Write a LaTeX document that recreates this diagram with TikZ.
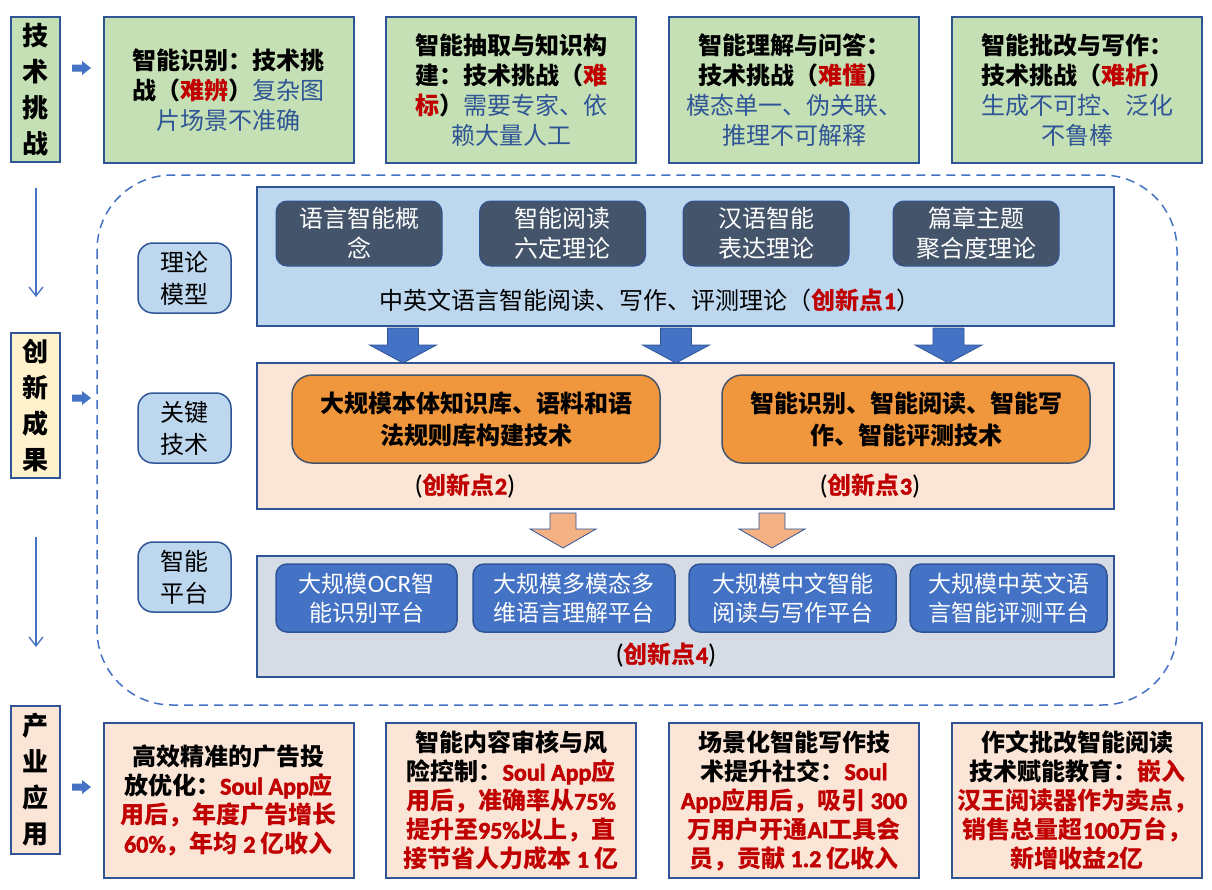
\documentclass[tikz,border=0pt]{standalone}
\usepackage{fontspec}
\setmainfont{Noto Sans CJK SC}
\newfontfamily\lat{Carlito}
\newfontfamily\latb{Carlito}[FakeBold=2.2]
\usetikzlibrary{arrows.meta}
\definecolor{bdr}{HTML}{2F5597}
\definecolor{grn}{HTML}{C5E0B4}
\definecolor{cred}{HTML}{C00000}
\definecolor{cblue}{HTML}{2F5597}
\definecolor{lblue}{HTML}{BDD7EE}
\definecolor{dark}{HTML}{44546A}
\definecolor{ablue}{HTML}{4472C4}
\definecolor{peach}{HTML}{FBE5D6}
\definecolor{orng}{HTML}{F0963C}
\definecolor{orarrow}{HTML}{F4B183}
\definecolor{gry}{HTML}{D6DCE5}
\definecolor{yel}{HTML}{FFF2CC}
\newcommand\rd[1]{{\bfseries\color{cred}#1}}
\newcommand\bl[1]{{\mdseries\color{cblue}#1}}
\newcommand\lb[1]{{\latb #1}}
\newcommand\fs[2]{\fontsize{#1}{#2}\selectfont}
\newcommand\blockdown[7]{%
  \filldraw[#7] (#1-#5,#2) -- (#1+#5,#2) -- (#1+#5,#3) -- (#1+#6,#3) -- (#1,#4) -- (#1-#6,#3) -- (#1-#5,#3) -- cycle;}
\newcommand\blockright[2]{%
  \fill[ablue] (#1,#2-3.5) -- (#1+10,#2-3.5) -- (#1+10,#2-7) -- (#1+19,#2) -- (#1+10,#2+7) -- (#1+10,#2+3.5) -- (#1,#2+3.5) -- cycle;}
\tikzset{
  sidelabel/.style={draw=bdr, line width=2pt, minimum width=49pt, align=center, inner sep=0pt, font=\fs{26}{36}\bfseries},
  topbox/.style={draw=bdr, line width=2pt, fill=grn, minimum width=250pt, minimum height=146pt, align=center, inner sep=0pt, font=\fs{24}{30}\bfseries},
  botbox/.style={draw=bdr, line width=2pt, fill=peach, minimum width=250pt, minimum height=155pt, align=center, inner sep=0pt, font=\fs{24}{29}\bfseries},
  panel/.style={draw=bdr, line width=2pt},
  tag/.style={draw=bdr, line width=1.5pt, fill=lblue, rounded corners=15pt, minimum width=93pt, minimum height=70pt, align=center, inner sep=0pt, font=\fs{24}{32}},
  theo/.style={draw=bdr, line width=1pt, fill=dark, rounded corners=11pt, minimum width=166pt, minimum height=65pt, align=center, inner sep=0pt, text=white, font=\fs{24}{30}},
  tech/.style={draw=dark, line width=1.5pt, fill=orng, rounded corners=20pt, minimum width=368pt, minimum height=88pt, align=center, inner sep=0pt, font=\fs{24}{32}\bfseries},
  plat/.style={draw=bdr, line width=1.5pt, fill=ablue, rounded corners=11pt, minimum height=68pt, align=center, inner sep=0pt, text=white, font=\fs{23}{29}},
  thin/.style={ablue, line width=1.3pt, -{Straight Barb[length=9pt,width=14pt,line width=1.3pt]}},
}
\begin{document}
\begin{tikzpicture}[x=1pt,y=-1pt]
\useasboundingbox (0,0) rectangle (1212,889);
\fill[white] (0,0) rectangle (1212,889);

% dashed frame
\draw[ablue, line width=1.5pt, dash pattern=on 9pt off 6pt, rounded corners=75pt] (97,175) rectangle (1177,705);

% side labels
\node[sidelabel, fill=grn, minimum height=145pt] (sl1) at (35.5,89.5) {技\\术\\挑\\战};
\node[sidelabel, fill=yel, minimum height=145pt] (sl2) at (35.5,405.5) {创\\新\\成\\果};
\node[sidelabel, fill=peach, minimum height=148pt] (sl3) at (35.5,780) {产\\业\\应\\用};
\blockright{72}{68}
\blockright{72}{398}
\blockright{72}{787}
\coordinate (d1a) at (36,188); \coordinate (d1b) at (36,297);
\coordinate (d2a) at (36,537); \coordinate (d2b) at (36,647);
\draw[thin] (d1a) -- (d1b);
\draw[thin] (d2a) -- (d2b);

% top row
\node[topbox] (t1) at (228.5,90) {智能识别：技术挑\\战（\rd{难辨}）\bl{复杂图}\\\bl{片场景不准确}};
\node[topbox] (t2) at (511,90) {智能抽取与知识构\\建：技术挑战（\rd{难}\\\rd{标}）\bl{需要专家、依}\\\bl{赖大量人工}};
\node[topbox] (t3) at (794,90) {智能理解与问答：\\技术挑战（\rd{难懂}）\\\bl{模态单一、伪关联、}\\\bl{推理不可解释}};
\node[topbox] (t4) at (1077,90) {智能批改与写作：\\技术挑战（\rd{难析}）\\\bl{生成不可控、泛化}\\\bl{不鲁棒}};

% tags
\node[tag] (g1) at (184.5,278) {理论\\模型};
\node[tag] (g2) at (184.5,428) {关键\\技术};
\node[tag] (g3) at (184.5,577) {智能\\平台};

% theory panel
\draw[panel, fill=lblue] (257,187) rectangle (1114,326);
\node[theo] (th1) at (359,233.5) {语言智能概\\念};
\node[theo] (th2) at (562.5,233.5) {智能阅读\\六定理论};
\node[theo] (th3) at (766,233.5) {汉语智能\\表达理论};
\node[theo] (th4) at (976,233.5) {篇章主题\\聚合度理论};
\node[font=\fs{24}{30}, inner sep=0pt] (thx) at (650,300) {中英文语言智能阅读、写作、评测理论（\rd{创新点\lb{1}}）};

% blue arrows
\blockdown{403}{328}{345}{363}{15.5}{33.5}{fill=ablue, draw=bdr, line width=0.8pt}
\blockdown{676}{328}{345}{363}{15.5}{33.5}{fill=ablue, draw=bdr, line width=0.8pt}
\blockdown{948.5}{328}{345}{363}{15.5}{33.5}{fill=ablue, draw=bdr, line width=0.8pt}

% tech panel
\draw[panel, fill=peach] (257,363) rectangle (1114,509);
\node[tech] (k1) at (476,419) {大规模本体知识库、语料和语\\法规则库构建技术};
\node[tech] (k2) at (906,419) {智能识别、智能阅读、智能写\\作、智能评测技术};
\node[font=\fs{24}{30}, inner sep=0pt] (c2) at (465,486) {{\lat\fs{27}{30}(}\rd{创新点\lb{2}}{\lat\fs{27}{30})}};
\node[font=\fs{24}{30}, inner sep=0pt] (c3) at (870,486) {{\lat\fs{27}{30}(}\rd{创新点\lb{3}}{\lat\fs{27}{30})}};

% orange arrows
\blockdown{563}{513}{529}{548}{13}{33}{fill=orarrow, draw=bdr, line width=0.8pt}
\blockdown{772}{513}{529}{548}{13}{33}{fill=orarrow, draw=bdr, line width=0.8pt}

% platform panel
\draw[panel, fill=gry] (257,556) rectangle (1114,677);
\node[plat, minimum width=181pt] (p1) at (366.5,598) {大规模{\lat\fs{25}{29}OCR}智\\能识别平台};
\node[plat, minimum width=202pt] (p2) at (574,598) {大规模多模态多\\维语言理解平台};
\node[plat, minimum width=207pt] (p3) at (792.5,598) {大规模中文智能\\阅读与写作平台};
\node[plat, minimum width=197pt] (p4) at (1008.5,598) {大规模中英文语\\言智能评测平台};
\node[font=\fs{24}{30}, inner sep=0pt] (c4) at (666,655) {{\lat\fs{27}{30}(}\rd{创新点\lb{4}}{\lat\fs{27}{30})}};

% bottom row
\node[botbox] (b1) at (228.5,800.5) {高效精准的广告投\\放优化：\rd{\lb{Soul App}应}\\\rd{用后，年度广告增长}\\\rd{\lb{60\%}，年均\lb{\ 2\ }亿收入}};
\node[botbox] (b2) at (511,800.5) {智能内容审核与风\\险控制：\rd{\lb{Soul App}应}\\\rd{用后，准确率从\lb{75\%}}\\\rd{提升至\lb{95\%}以上，直}\\\rd{接节省人力成本\lb{\ 1\ }亿}};
\node[botbox] (b3) at (794,800.5) {场景化智能写作技\\术提升社交：\rd{\lb{Soul}}\\\rd{\lb{App}应用后，吸引\lb{\ 300}}\\\rd{万用户开通\lb{AI}工具会}\\\rd{员，贡献\lb{\ 1.2\ }亿收入}};
\node[botbox] (b4) at (1077,800.5) {作文批改智能阅读\\技术赋能教育：\rd{嵌入}\\\rd{汉王阅读器作为卖点，}\\\rd{销售总量超\lb{100}万台，}\\\rd{新增收益\lb{2}亿}};
\end{tikzpicture}
\end{document}
